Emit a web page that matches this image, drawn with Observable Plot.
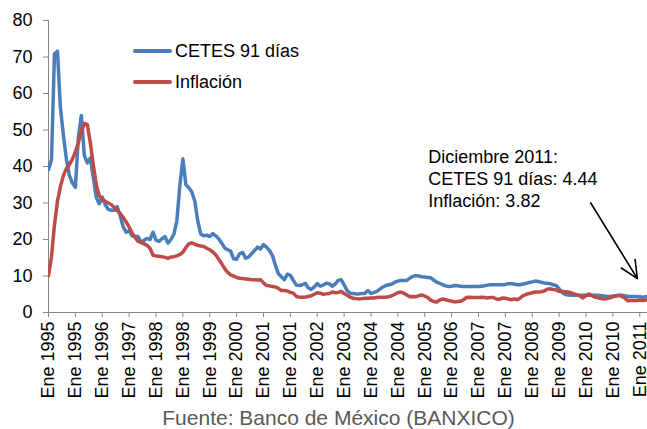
<!DOCTYPE html>
<html>
<head>
<meta charset="utf-8">
<script src="https://cdn.jsdelivr.net/npm/d3@7"></script>
<script src="https://cdn.jsdelivr.net/npm/@observablehq/plot@0.6"></script>
<style>
  html, body { margin: 0; padding: 0; background: #fff; }
  #wrap { position: relative; width: 647px; height: 429px; font-family: "Liberation Sans", Arial, sans-serif; }
  .leg { position: absolute; left: 133px; display: flex; align-items: center; font-size: 18px; color: #000; height: 22px; }
  .sw { width: 39px; height: 4px; border-radius: 2px; margin-right: 3px; }
</style>
</head>
<body>
<div id="wrap"></div>
<script>
// Monthly data, Jan 1995 – Dec 2011 (percent)
const cetes = [
  39.2, 41.8, 70.8, 71.6, 56.0, 48.5, 42.0, 37.5, 35.5, 34.3,
  48.0, 54.0, 43.0, 41.0, 42.3, 37.0, 31.5, 29.8, 31.6, 29.5,
  28.3, 28.0, 28.0, 29.0, 26.5, 23.5, 22.0, 22.4, 21.0, 20.8,
  20.8, 19.2, 19.8, 20.3, 20.0, 22.0, 19.8, 19.5, 20.2, 20.8,
  19.0, 20.0, 21.5, 25.2, 35.0, 42.1, 35.0, 34.2, 33.0, 30.5,
  25.0, 21.5, 21.0, 21.2, 20.8, 21.6, 21.0, 20.2, 19.0, 17.7,
  17.2, 16.8, 14.7, 14.6, 16.1, 16.5, 14.9, 15.2, 16.1, 17.0,
  17.9, 17.4, 18.6, 17.9, 17.0, 15.6, 12.9, 10.6, 9.8, 9.0,
  10.5, 10.2, 8.8, 7.5, 7.4, 7.6, 8.0, 6.8, 6.3, 7.0,
  7.9, 7.2, 7.5, 8.0, 7.9, 7.2, 7.8, 8.8, 9.0, 7.6,
  6.0, 5.3, 5.2, 5.1, 5.1, 5.2, 5.3, 6.0, 5.2, 5.5,
  5.8, 6.4, 7.0, 7.4, 7.6, 7.8, 8.3, 8.6, 8.8, 8.8,
  8.8, 9.4, 9.9, 10.1, 10.0, 9.8, 9.7, 9.6, 9.5, 8.9,
  8.3, 8.0, 7.6, 7.3, 7.1, 7.2, 7.4, 7.3, 7.2, 7.1,
  7.1, 7.1, 7.1, 7.1, 7.1, 7.2, 7.3, 7.5, 7.6, 7.6,
  7.6, 7.6, 7.6, 7.7, 7.9, 7.9, 7.8, 7.6, 7.6, 7.8,
  8.0, 8.2, 8.4, 8.6, 8.5, 8.3, 8.1, 8.0, 7.9, 7.6,
  7.4, 6.5, 5.4, 5.0, 4.8, 4.7, 4.7, 4.7, 4.7, 4.7,
  4.7, 4.7, 4.7, 4.7, 4.7, 4.6, 4.5, 4.4, 4.4, 4.5,
  4.6, 4.7, 4.7, 4.6, 4.4, 4.4, 4.4, 4.4, 4.3, 4.2,
  4.3, 4.3, 4.4, 4.44
];
const inflacion = [
  10.1, 15.2, 24.0, 30.5, 34.5, 37.5, 39.5, 40.5, 42.0, 44.0,
  46.5, 49.5, 51.8, 51.5, 46.5, 40.5, 35.0, 32.0, 31.0, 30.5,
  30.0, 29.6, 28.8, 27.9, 27.2, 26.0, 24.8, 23.4, 21.8, 20.5,
  19.5, 19.2, 18.8, 18.4, 17.6, 15.7, 15.5, 15.4, 15.3, 15.1,
  14.8, 15.2, 15.3, 15.5, 15.9, 16.5, 17.8, 18.8, 19.1, 18.7,
  18.4, 18.2, 18.1, 17.6, 17.2, 16.6, 15.8, 14.6, 13.4, 12.0,
  11.0, 10.3, 10.0, 9.6, 9.4, 9.3, 9.2, 9.1, 9.0, 9.0,
  8.9, 9.0, 8.1, 7.4, 7.3, 7.1, 7.0, 6.6, 6.0, 6.0,
  5.9, 5.5, 5.3, 4.4, 4.2, 4.2, 4.2, 4.4, 4.6, 5.0,
  5.4, 5.3, 5.0, 5.1, 5.2, 5.6, 5.4, 5.5, 5.8, 5.2,
  4.7, 4.2, 3.9, 3.8, 3.7, 3.8, 3.9, 3.9, 4.0, 4.0,
  4.1, 4.2, 4.2, 4.2, 4.3, 4.6, 5.0, 5.4, 5.6, 5.3,
  4.8, 4.3, 4.4, 4.3, 4.6, 4.8, 4.5, 4.1, 3.4, 3.0,
  2.9, 3.4, 3.7, 3.5, 3.3, 3.1, 2.9, 3.0, 3.1, 3.5,
  4.1, 4.2, 4.1, 4.1, 4.1, 4.2, 4.1, 4.0, 4.1, 4.1,
  3.7, 3.6, 4.0, 3.9, 3.7, 3.5, 3.7, 3.5, 4.0, 4.6,
  5.0, 5.2, 5.4, 5.6, 5.6, 5.7, 5.9, 6.4, 6.5, 6.3,
  6.2, 5.8, 5.8, 5.7, 5.6, 5.4, 5.1, 4.9, 4.5, 4.0,
  4.6, 5.1, 4.6, 4.2, 4.0, 3.8, 3.7, 3.8, 4.0, 4.3,
  4.5, 4.7, 4.4, 4.0, 3.2, 3.3, 3.3, 3.3, 3.4, 3.3,
  3.4, 3.5, 3.6, 3.82
];
const tickLabels = [
  "Ene 1995", "Ene 1995", "Ene 1996", "Ene 1997", "Ene 1998", "Ene 1998",
  "Ene 1999", "Ene 2000", "Ene 2001", "Ene 2001", "Ene 2002", "Ene 2003",
  "Ene 2004", "Ene 2004", "Ene 2005", "Ene 2006", "Ene 2007", "Ene 2007",
  "Ene 2008", "Ene 2009", "Ene 2010", "Ene 2010", "Ene 2011"
];
const tickStep = 9; // months between category labels
const yTicks = [0, 10, 20, 30, 40, 50, 60, 70, 80];
const seriesNames = ["CETES 91 días", "Inflación"];
const colors = ["#4A7EBB", "#BE4B48"];
const footer = "Fuente: Banco de México (BANXICO)";

const last = cetes.length - 1;
const note = `Diciembre 2011:\nCETES 91 días: ${cetes[last]}\nInflación: ${inflacion[last]}`;
// annotation anchor (in data units: month index, percent)
const noteAt = {i: 127.2, v: 45.2};
const arrowAt = {i1: 181.6, v1: 30.0, i2: 197.2, v2: 9.3};

const rows = (arr) => arr.map((v, i) => ({i, v}));
const tickIdx = tickLabels.map((_, k) => k * tickStep);

const font = '"Liberation Sans", Arial, sans-serif';
const chart = Plot.plot({
  width: 647, height: 429,
  marginLeft: 48, marginRight: 0, marginTop: 20, marginBottom: 117,
  style: {fontFamily: font, fontSize: "18px", color: "#000", background: "#fff", overflow: "visible"},
  x: {domain: [0, 200.6]},
  y: {domain: [0, 80]},
  marks: [
    Plot.ruleY([0], {stroke: "#868686", strokeWidth: 1}),
    Plot.ruleX([0], {stroke: "#868686", strokeWidth: 1}),
    Plot.axisY({ticks: yTicks, tickSize: 5, tickPadding: 11, stroke: "#868686", fill: "#000", fontSize: 18, label: null}),
    Plot.axisX({ticks: tickIdx, tickFormat: (d) => tickLabels[d / tickStep], tickRotate: -90, tickSize: 5, tickPadding: 4,
      stroke: "#868686", fill: "#000", fontSize: 18, label: null}),
    Plot.line(rows(cetes), {x: "i", y: "v", stroke: colors[0], strokeWidth: 3.5, clip: true}),
    Plot.line(rows(inflacion), {x: "i", y: "v", stroke: colors[1], strokeWidth: 3.5, clip: true}),
    Plot.text([note], {x: () => noteAt.i, y: () => noteAt.v, text: (d) => d, textAnchor: "start", lineAnchor: "top",
      lineHeight: 1.22, fontSize: 18, fill: "#000"}),
    Plot.arrow([arrowAt], {x1: "i1", y1: "v1", x2: "i2", y2: "v2", stroke: "#000", strokeWidth: 1.6, headLength: 18, headAngle: 50}),
    Plot.text([footer], {frameAnchor: "bottom", lineAnchor: "middle", dy: 106, dx: -9.5, fill: "#595959", fontSize: 21})
  ]
});
const wrap = document.getElementById("wrap");
wrap.appendChild(chart);

// Legend overlay
const legTops = [40, 71];
seriesNames.forEach((name, k) => {
  const row = document.createElement("div");
  row.className = "leg";
  row.style.top = legTops[k] + "px";
  const sw = document.createElement("div");
  sw.className = "sw";
  sw.style.background = colors[k];
  const t = document.createElement("span");
  t.textContent = name;
  row.appendChild(sw);
  row.appendChild(t);
  wrap.appendChild(row);
});
</script>
</body>
</html>
